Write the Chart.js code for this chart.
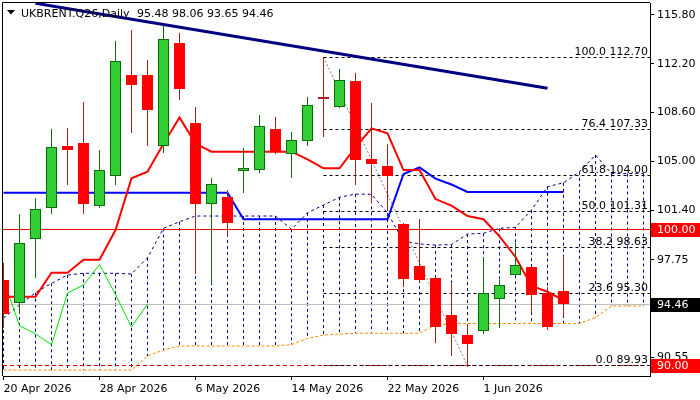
<!DOCTYPE html>
<html>
<head>
<meta charset="utf-8">
<script src="https://cdn.jsdelivr.net/npm/chart.js@4.4.1/dist/chart.umd.min.js"></script>
<style>
  html, body { margin: 0; padding: 0; background: #fff; }
  #wrap { width: 700px; height: 400px; }
</style>
</head>
<body>
<div id="wrap"><canvas id="chart" width="700" height="400"></canvas></div>
<script>
// ==================== DATA ====================
const symbolTitle = 'UKBRENT.Q26,Daily';
const lastQuote = '95.48 98.06 93.65 94.46';

const xTickIdx = [0, 6, 12, 18, 24, 30];
const dateLabels = ['20 Apr 2026', '28 Apr 2026', '6 May 2026', '14 May 2026', '22 May 2026', '1 Jun 2026'];
const yTicks = [90.55, 94.15, 97.75, 101.40, 105.00, 108.60, 112.20, 115.80];

// daily candles, one per trading day
const opens  = [96.26, 94.55, 99.26, 101.55, 106.16, 106.36, 101.74, 103.91, 111.35, 111.35, 106.14, 113.71, 107.81, 101.84, 102.36, 104.32, 104.35, 107.39, 105.53, 106.48, 109.77, 109.03, 110.93, 105.16, 104.66, 100.39, 97.30, 96.39, 93.66, 92.19, 92.48, 94.84, 96.61, 97.20, 95.28, 95.48];
const highs  = [97.54, 101.13, 102.28, 107.39, 107.49, 109.38, 105.84, 113.88, 114.69, 112.48, 115.22, 114.47, 108.99, 103.80, 102.90, 105.99, 108.43, 108.28, 107.17, 109.75, 112.70, 111.81, 111.52, 109.31, 106.31, 100.50, 100.74, 96.45, 95.95, 93.00, 97.86, 96.26, 99.01, 97.25, 95.77, 98.06];
const lows   = [92.82, 93.81, 96.51, 101.22, 103.36, 101.22, 101.64, 103.32, 107.15, 106.23, 105.70, 109.58, 96.76, 96.02, 99.51, 102.77, 104.22, 105.65, 103.88, 106.21, 106.90, 108.99, 103.32, 102.03, 101.42, 95.84, 96.20, 91.72, 90.76, 89.93, 92.38, 92.82, 96.60, 93.91, 92.63, 93.65];
const closes = [93.74, 98.97, 101.50, 106.04, 105.87, 101.84, 104.35, 112.38, 110.66, 108.77, 114.00, 110.32, 101.84, 103.32, 100.49, 104.49, 107.59, 105.72, 106.56, 109.14, 109.68, 110.98, 105.13, 104.83, 103.95, 96.32, 96.24, 92.82, 92.31, 91.53, 95.28, 95.87, 97.35, 95.18, 92.82, 94.46];

// ichimoku lines
const tenkan = [95.03, 95.03, 95.03, 96.80, 96.80, 97.76, 97.76, 99.95, 103.76, 104.24, 106.31, 108.25, 106.32, 105.72, 105.72, 105.72, 105.72, 105.72, 105.72, 105.15, 104.50, 104.50, 106.04, 107.44, 107.07, 104.37, 104.37, 102.23, 101.75, 100.98, 100.74, 99.48, 97.96, 95.82, 95.40, 94.79];
const kijun  = [102.70, 102.70, 102.70, 102.70, 102.70, 102.70, 102.70, 102.70, 102.70, 102.70, 102.70, 102.70, 102.70, 102.70, 102.70, 100.74, 100.74, 100.74, 100.74, 100.74, 100.74, 100.74, 100.74, 100.74, 100.74, 104.08, 104.57, 103.74, 103.30, 102.75, 102.75, 102.75, 102.75, 102.75, 102.75, 102.75];
const chikou = [96.30, 92.90, 92.30, 91.50, 95.30, 95.90, 97.40, 95.20, 92.80, 94.50];
const spanA  = [93.46, 94.42, 95.33, 96.02, 96.63, 96.76, 96.76, 96.76, 96.71, 97.90, 100.07, 100.56, 100.98, 100.98, 100.98, 100.98, 100.98, 100.98, 100.00, 101.22, 101.79, 102.36, 102.60, 102.58, 101.20, 99.14, 98.92, 98.84, 98.88, 99.65, 99.71, 100.07, 100.15, 101.42, 103.14, 103.43, 104.24, 105.48, 104.11, 104.11, 104.11];
const spanB  = [89.63, 89.63, 89.63, 89.63, 89.63, 89.63, 89.63, 89.63, 89.63, 90.66, 91.11, 91.40, 91.40, 91.40, 91.40, 91.40, 91.40, 91.40, 91.51, 91.95, 92.21, 92.28, 92.34, 92.34, 92.34, 92.34, 92.34, 92.95, 93.06, 93.06, 93.06, 93.06, 93.06, 93.06, 93.06, 93.06, 93.06, 93.50, 94.35, 94.35, 94.35];

// drawing objects
const trendIdx = [2, 34];
const trendVal = [116.66, 110.39];
const fibIdx = [20, 29];
const fibVal = [112.70, 89.93];
const fibPct = ['100.0', '76.4', '61.8', '50.0', '38.2', '23.6', '0.0'];
const fibPrice = [112.70, 107.33, 104.00, 101.31, 98.63, 95.30, 89.93];
const levelRed = 100.00;
const levelLow = 90.00;
const bidPrice = 94.46;

// ==================== CHART ====================
Chart.defaults.font.family = 'DejaVu Sans';
Chart.defaults.font.size = 11;
Chart.defaults.color = '#000';

const pts = (arr, start = 0) => arr.map((v, i) => ({ x: i + start, y: v }));
const pairPts = (xs, ys) => xs.map((v, i) => ({ x: v, y: ys[i] }));

function hline(ctx, x1, x2, py, color, dash) {
    ctx.strokeStyle = color;
    ctx.setLineDash(dash);
    ctx.beginPath();
    ctx.moveTo(x1, py);
    ctx.lineTo(x2, py);
    ctx.stroke();
}

function drawCandles(chart) {
    const { ctx, chartArea: a, scales: { x, y } } = chart;
    ctx.save();
    ctx.beginPath();
    ctx.rect(a.left, a.top, a.right - a.left, a.bottom - a.top);
    ctx.clip();
    ctx.setLineDash([]);
    for (let i = 0; i < opens.length; i++) {
        const cx = Math.floor(x.getPixelForValue(i));
        const bull = closes[i] >= opens[i];
        const yH = Math.round(y.getPixelForValue(highs[i]));
        const yL = Math.round(y.getPixelForValue(lows[i]));
        const yT = Math.round(y.getPixelForValue(Math.max(opens[i], closes[i])));
        const yB = Math.round(y.getPixelForValue(Math.min(opens[i], closes[i])));
        const wick = bull ? '#0a6e0a' : '#a82020';
        ctx.fillStyle = wick;
        ctx.fillRect(cx, yH, 1, yL - yH + 1);
        const h = Math.max(yB - yT, 1);
        if (h <= 2) {
            ctx.fillStyle = wick;
            ctx.fillRect(cx - 5, yT, 11, 2);
            continue;
        }
        ctx.fillStyle = bull ? '#32cd32' : '#ff0000';
        ctx.fillRect(cx - 5, yT, 11, h);
        if (bull) {
            ctx.strokeStyle = '#0a6e0a';
            ctx.lineWidth = 1;
            ctx.strokeRect(cx - 4.5, yT + 0.5, 10, h - 1);
        }
    }
    ctx.restore();
}

const TREND_DS = 6;

const mt4Plugin = {
    id: 'mt4',
    beforeDatasetsDraw(chart) {
        const { ctx, chartArea: a, scales: { x, y } } = chart;
        ctx.save();
        ctx.beginPath();
        ctx.rect(a.left, a.top, a.right - a.left, a.bottom - a.top);
        ctx.clip();
        ctx.lineWidth = 1;

        // Kumo histogram
        ctx.strokeStyle = '#000080';
        ctx.setLineDash([3, 3]);
        for (let i = 0; i < spanA.length; i++) {
            const px = Math.floor(x.getPixelForValue(i)) + 0.5;
            ctx.beginPath();
            ctx.moveTo(px, y.getPixelForValue(spanA[i]));
            ctx.lineTo(px, y.getPixelForValue(spanB[i]));
            ctx.stroke();
        }

        // niveaux horizontaux
        const py = v => Math.floor(y.getPixelForValue(v)) + 0.5;
        hline(ctx, a.left, a.right, py(levelRed), '#ff0000', []);
        hline(ctx, a.left, a.right, py(bidPrice), '#c0c0c0', []);
        hline(ctx, a.left, a.right, py(levelLow), '#dd0000', [4, 3]);

        // Fibonacci
        const fx = x.getPixelForValue(fibIdx[0]);
        ctx.fillStyle = '#000';
        ctx.textAlign = 'right';
        ctx.textBaseline = 'alphabetic';
        ctx.font = '11px "DejaVu Sans"';
        for (let k = 0; k < fibPrice.length; k++) {
            hline(ctx, fx, a.right, py(fibPrice[k]), '#000', [3, 3]);
            ctx.fillText(fibPct[k] + ' ' + fibPrice[k].toFixed(2), a.right - 2, py(fibPrice[k]) - 3);
        }
        ctx.restore();
    },
    beforeDatasetDraw(chart, args) {
        if (args.index === TREND_DS) drawCandles(chart);
    },
    afterDraw(chart) {
        const { ctx, chartArea: a, scales: { y } } = chart;
        ctx.save();
        ctx.setLineDash([]);
        ctx.strokeStyle = '#000';
        ctx.lineWidth = 1;
        ctx.beginPath();
        ctx.moveTo(a.left - 0.5, a.bottom);
        ctx.lineTo(a.left - 0.5, a.top - 0.5);
        ctx.lineTo(a.right, a.top - 0.5);
        ctx.stroke();

        // en-tête
        ctx.fillStyle = '#000';
        ctx.beginPath();
        ctx.moveTo(7, 10);
        ctx.lineTo(15, 10);
        ctx.lineTo(11, 14.5);
        ctx.closePath();
        ctx.fill();
        ctx.font = '11px "DejaVu Sans"';
        ctx.textAlign = 'left';
        ctx.textBaseline = 'alphabetic';
        ctx.fillText(symbolTitle, 21, 17);
        ctx.fillText(lastQuote, 137, 17);

        // étiquettes de prix
        const boxes = [[levelRed, '#ff0000'], [bidPrice, '#000000'], [levelLow, '#ff0000']];
        ctx.textBaseline = 'middle';
        boxes.forEach(([v, bg]) => {
            const cy = y.getPixelForValue(v);
            const top = Math.round(cy) - 6;
            ctx.fillStyle = bg;
            ctx.fillRect(a.right + 1, top, 700 - a.right - 1, 14);
            ctx.fillStyle = '#fff';
            ctx.fillText(v.toFixed(2), a.right + 7, top + 7.5);
        });
        ctx.restore();
    }
};

new Chart(document.getElementById('chart'), {
    type: 'line',
    data: {
        datasets: [
            { label: 'Senkou A', data: pts(spanA), borderColor: '#000080', borderWidth: 1, borderDash: [3, 3], order: 8 },
            { label: 'Senkou B', data: pts(spanB), borderColor: '#ff8c00', borderWidth: 1, borderDash: [3, 2], order: 8 },
            { label: 'Chikou', data: pts(chikou), borderColor: '#00e000', borderWidth: 1, order: 7 },
            { label: 'Kijun', data: pts(kijun), borderColor: '#0000ff', borderWidth: 2, order: 6 },
            { label: 'Tenkan', data: pts(tenkan), borderColor: '#ff0000', borderWidth: 2, order: 5 },
            { label: 'Fibo', data: pairPts(fibIdx, fibVal), borderColor: '#808080', borderWidth: 1, borderDash: [2, 2], order: 4 },
            { label: 'Trend', data: pairPts(trendIdx, trendVal), borderColor: '#000080', borderWidth: 3, order: 1 }
        ]
    },
    options: {
        responsive: false,
        animation: false,
        events: [],
        layout: { padding: { left: 3, top: 3, right: 0, bottom: 0 } },
        elements: { point: { radius: 0 }, line: { tension: 0, fill: false } },
        plugins: { legend: { display: false }, tooltip: { enabled: false } },
        scales: {
            x: {
                type: 'linear',
                min: -0.03125,
                max: 40.40625,
                afterBuildTicks: s => { s.ticks = xTickIdx.map(v => ({ value: v })); },
                afterFit: s => { s.height = 24; s.paddingLeft = 0; s.paddingRight = 0; },
                ticks: {
                    align: 'start',
                    maxRotation: 0,
                    autoSkip: false,
                    padding: 3,
                    callback: (v, i) => dateLabels[i]
                },
                grid: { drawOnChartArea: false, tickLength: 4, color: '#000' },
                border: { display: true, color: '#000' }
            },
            y: {
                type: 'linear',
                position: 'right',
                min: 89.19,
                max: 116.68,
                afterBuildTicks: s => { s.ticks = yTicks.map(v => ({ value: v })); },
                afterFit: s => { s.width = 50; s.paddingTop = 0; s.paddingBottom = 0; },
                ticks: {
                    autoSkip: false,
                    padding: 3,
                    callback: v => v.toFixed(2)
                },
                grid: { drawOnChartArea: false, tickLength: 4, color: '#000' },
                border: { display: true, color: '#000' }
            }
        }
    },
    plugins: [mt4Plugin]
});
</script>
</body>
</html>
